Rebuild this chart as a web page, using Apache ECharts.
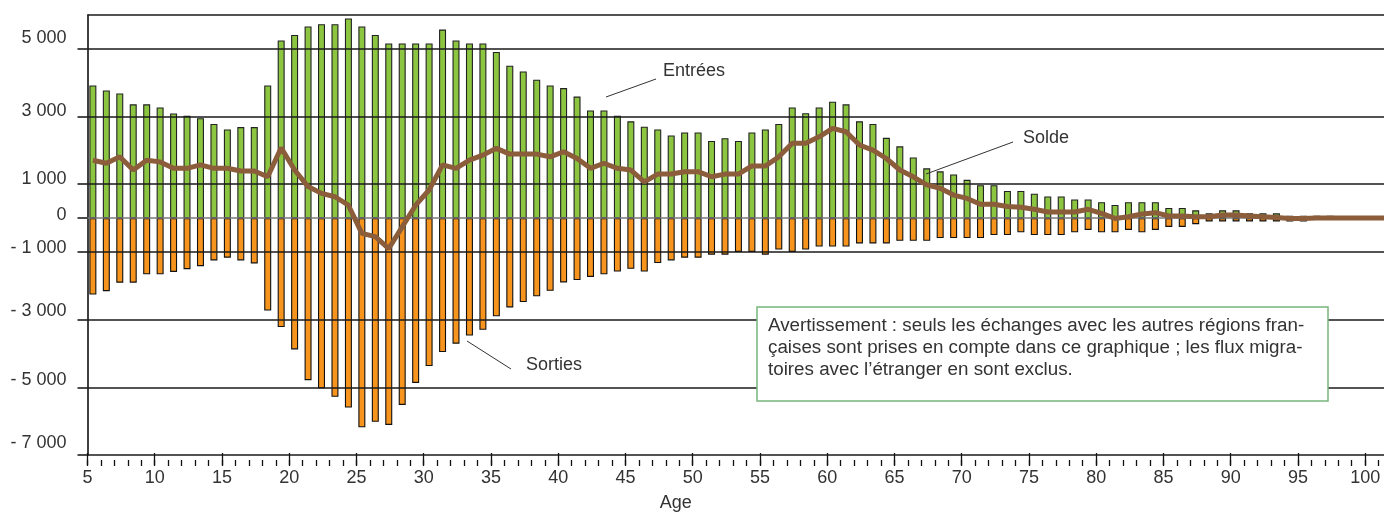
<!DOCTYPE html>
<html><head><meta charset="utf-8">
<script src="https://cdn.jsdelivr.net/npm/echarts@6/dist/echarts.min.js"></script>
<style>html,body{margin:0;padding:0;background:#fff}#c{width:1384px;height:517px}</style>
</head><body><div id="c"></div>
<script>
// ---- data ----
const ages = [5,6,7,8,9,10,11,12,13,14,15,16,17,18,19,20,21,22,23,24,25,26,27,28,29,30,31,32,33,34,35,36,37,38,39,40,41,42,43,44,45,46,47,48,49,50,51,52,53,54,55,56,57,58,59,60,61,62,63,64,65,66,67,68,69,70,71,72,73,74,75,76,77,78,79,80,81,82,83,84,85,86,87,88,89,90,91,92,93,94,95,96,97];
const entrees = [3920,3770,3680,3360,3360,3270,3090,3020,2950,2780,2620,2690,2690,3920,5250,5410,5660,5730,5730,5900,5660,5410,5160,5160,5160,5160,5570,5250,5160,5160,4910,4500,4330,4090,3920,3840,3590,3180,3180,3020,2860,2700,2620,2440,2530,2530,2280,2360,2280,2530,2620,2780,3270,3100,3270,3440,3360,2860,2780,2370,2120,1790,1470,1380,1290,1130,970,970,800,800,720,640,640,550,550,470,390,470,470,470,300,300,230,140,230,230,140,140,140,70,70,70,70];
const sorties = [-2260,-2160,-1910,-1910,-1660,-1660,-1590,-1510,-1420,-1250,-1170,-1250,-1340,-2730,-3220,-3880,-4790,-5030,-5280,-5600,-6180,-6020,-6110,-5520,-4870,-4370,-3960,-3710,-3470,-3300,-2900,-2640,-2480,-2310,-2150,-1900,-1830,-1740,-1660,-1580,-1500,-1580,-1330,-1250,-1170,-1170,-1080,-1080,-1000,-1000,-1080,-930,-1000,-930,-840,-840,-840,-750,-750,-750,-670,-670,-670,-590,-590,-590,-590,-500,-500,-420,-500,-500,-500,-420,-350,-420,-420,-350,-420,-350,-260,-260,-180,-100,-100,-100,-100,-100,-100,-100,-100,-20,-20];
const soldeAges = [5,6,7,8,9,10,11,12,13,14,15,16,17,18,19,20,21,22,23,24,25,26,27,28,29,30,31,32,33,34,35,36,37,38,39,40,41,42,43,44,45,46,47,48,49,50,51,52,53,54,55,56,57,58,59,60,61,62,63,64,65,66,67,68,69,70,71,72,73,74,75,76,77,78,79,80,81,82,83,84,85,86,87,88,89,90,91,92,93,94,95,96,97,98,99,100,101];
const solde = [1710,1620,1810,1420,1710,1660,1470,1470,1570,1470,1470,1390,1390,1220,2080,1420,930,730,630,380,-450,-550,-900,-260,380,830,1570,1470,1710,1860,2060,1890,1890,1890,1810,1960,1760,1470,1620,1470,1420,1070,1300,1300,1370,1370,1220,1300,1300,1540,1540,1810,2210,2210,2400,2650,2550,2160,2010,1760,1420,1220,980,880,680,580,410,410,340,320,260,180,180,180,260,140,-10,40,120,160,60,60,40,40,90,90,60,40,20,-10,-10,0,0,0,0,0,0];
const yTickValues = [5000,3000,1000,0,-1000,-3000,-5000,-7000];
const yTickLabels = ['5 000','3 000','1 000','0','- 1 000','- 3 000','- 5 000','- 7 000'];
const xMajorTicks = [5,10,15,20,25,30,35,40,45,50,55,60,65,70,75,80,85,90,95,100];
const xMinorTicks = [5,6,7,8,9,10,11,12,13,14,15,16,17,18,19,20,21,22,23,24,25,26,27,28,29,30,31,32,33,34,35,36,37,38,39,40,41,42,43,44,45,46,47,48,49,50,51,52,53,54,55,56,57,58,59,60,61,62,63,64,65,66,67,68,69,70,71,72,73,74,75,76,77,78,79,80,81,82,83,84,85,86,87,88,89,90,91,92,93,94,95,96,97,98,99,100,101];
const noteLines = [
  'Avertissement : seuls les échanges avec les autres régions fran-',
  'çaises sont prises en compte dans ce graphique ; les flux migra-',
  'toires avec l\u2019étranger en sont exclus.'
];

// ---- style ----
const FONT = "'Liberation Sans', Arial, sans-serif";
const TXT = '#333333';
const FS = 18;
const OFF = 0.4;           // bars/points sit slightly right of the age tick
const XMIN = 5, XMAX = 101.4, YMIN = -7000, YMAX = 6000;
const GRID = {left: 87.5, right: 0, top: 15, bottom: 62};
const labelLift = [11, 6, 5, 3, 4, 9, 7, 12];

const rich = {};
yTickLabels.forEach((t, i) => {
  rich['l' + i] = {fontSize: FS, fontFamily: FONT, color: TXT, padding: [0, 0, 2 * labelLift[i], 0]};
});

const chart = echarts.init(document.getElementById('c'));

const gridLineData = [{yAxis: YMAX}].concat(
  yTickValues.filter(v => v !== 0).map(v => ({yAxis: v})),
  [{yAxis: 0, lineStyle: {color: '#7a7a7a', width: 1.6}}]
);

const baseX = {type: 'value', min: XMIN, max: XMAX, splitLine: {show: false}};
const baseY = {type: 'value', min: YMIN, max: YMAX, splitLine: {show: false}};

chart.setOption({
  animation: false,
  backgroundColor: '#fff',
  grid: [Object.assign({}, GRID), Object.assign({}, GRID), Object.assign({}, GRID)],
  xAxis: [
    Object.assign({}, baseX, {gridIndex: 0, axisLine: {show: false, onZero: false}, axisTick: {show: false}, axisLabel: {show: false}}),
    Object.assign({}, baseX, {gridIndex: 1, offset: 4, axisLine: {show: false, onZero: false},
      axisTick: {show: true, customValues: xMajorTicks, length: 12, lineStyle: {color: '#111', width: 1.3}},
      axisLabel: {show: true, customValues: xMajorTicks, margin: 16, fontSize: FS, fontFamily: FONT, color: TXT},
      name: 'Age', nameLocation: 'middle', nameGap: 41,
      nameTextStyle: {fontSize: FS, fontFamily: FONT, color: TXT, padding: [0, 120, 0, 0]}}),
    Object.assign({}, baseX, {gridIndex: 2, offset: 5, axisLine: {show: false, onZero: false},
      axisTick: {show: true, customValues: xMinorTicks, length: 6, lineStyle: {color: '#111', width: 1.3}},
      axisLabel: {show: false}})
  ],
  yAxis: [
    Object.assign({}, baseY, {gridIndex: 0,
      axisLine: {show: true, onZero: false, lineStyle: {color: '#111', width: 1.6}},
      axisTick: {show: true, customValues: yTickValues, length: 10, lineStyle: {color: '#111', width: 1.5}},
      axisLabel: {show: true, customValues: yTickValues, margin: 21, rich: rich,
        formatter: v => { const i = yTickValues.indexOf(v); return i < 0 ? '' : '{l' + i + '|' + yTickLabels[i] + '}'; }}}),
    Object.assign({}, baseY, {gridIndex: 1, show: false}),
    Object.assign({}, baseY, {gridIndex: 2, show: false})
  ],
  series: [
    {
      name: 'Entrées', type: 'bar', xAxisIndex: 0, yAxisIndex: 0, stack: 'flux', barWidth: 7, z: 2,
      itemStyle: {color: '#8cc540', borderColor: '#222', borderWidth: 1.1},
      data: ages.map((a, i) => [a + OFF, entrees[i]]),
      markLine: {silent: true, symbol: 'none', z: 5, label: {show: false},
        lineStyle: {type: 'solid', color: '#1a1a1a', width: 1.5}, data: gridLineData}
    },
    {
      name: 'Sorties', type: 'bar', xAxisIndex: 0, yAxisIndex: 0, stack: 'flux', barWidth: 7, z: 2,
      itemStyle: {color: '#f7941d', borderColor: '#111', borderWidth: 1.1},
      data: ages.map((a, i) => [a + OFF, sorties[i]])
    },
    {
      name: 'Solde', type: 'line', xAxisIndex: 0, yAxisIndex: 0, z: 6, symbol: 'none',
      lineStyle: {color: '#8b5d3b', width: 5}, itemStyle: {color: '#8b5d3b'},
      data: soldeAges.map((a, i) => [a + OFF, solde[i]])
    }
  ],
  graphic: [
    {type: 'line', z: 100, shape: {x1: 606, y1: 97, x2: 656, y2: 79}, style: {stroke: '#333', lineWidth: 1}},
    {type: 'text', z: 100, x: 663, y: 71, style: {text: 'Entrées', fontSize: FS, fontFamily: FONT, fill: TXT, verticalAlign: 'middle'}},
    {type: 'line', z: 100, shape: {x1: 926, y1: 174, x2: 1013, y2: 142}, style: {stroke: '#333', lineWidth: 1}},
    {type: 'text', z: 100, x: 1023, y: 138, style: {text: 'Solde', fontSize: FS, fontFamily: FONT, fill: TXT, verticalAlign: 'middle'}},
    {type: 'line', z: 100, shape: {x1: 467, y1: 341, x2: 511, y2: 369}, style: {stroke: '#333', lineWidth: 1}},
    {type: 'text', z: 100, x: 526, y: 365, style: {text: 'Sorties', fontSize: FS, fontFamily: FONT, fill: TXT, verticalAlign: 'middle'}},
    {type: 'rect', z: 100, shape: {x: 757, y: 307, width: 571, height: 94}, style: {fill: '#fff', stroke: '#78b57c', lineWidth: 1.5}},
    {type: 'text', z: 101, x: 768, y: 315, style: {text: noteLines.join('\n'), fontSize: 18.8, fontFamily: FONT, fill: TXT, lineHeight: 22, verticalAlign: 'top'}}
  ]
});
</script>
</body></html>
